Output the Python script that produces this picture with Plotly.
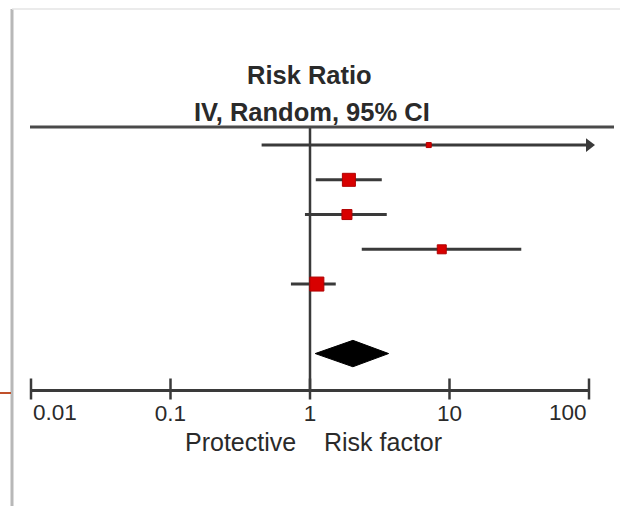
import math
import plotly.graph_objects as go

# ---- data ----
studies = ["Study 1", "Study 2", "Study 3", "Study 4", "Study 5"]
rr_est = [7.1, 1.90, 1.84, 8.8, 1.12]
rr_low = [0.45, 1.10, 0.92, 2.35, 0.73]
rr_high = [150.0, 3.27, 3.55, 32.7, 1.53]
weights = [5, 13, 10, 9, 14]          # relative box size
pooled_est = 2.03
pooled_low = 1.09
pooled_high = 3.66
tick_vals = [0.01, 0.1, 1, 10, 100]
tick_text = ["0.01", "0.1", "1", "10", "100"]

X_MIN, X_MAX = tick_vals[0], tick_vals[-1]
n = len(studies)
pooled_row = n + 1
Y_TOP, Y_BOT = -0.52, pooled_row + 1.02

LINE_C = "#3a3a3a"
BOX_C = "#d80000"
TXT_C = "#2a2a2a"
FONT = "Liberation Sans, Arial, sans-serif"
TICK_SIZE = 22.5

fig = go.Figure()

# reference (null) line at RR = 1
fig.add_trace(go.Scatter(x=[1, 1], y=[Y_TOP, Y_BOT], mode="lines",
                         line=dict(color=LINE_C, width=2.5),
                         hoverinfo="skip", showlegend=False))

# confidence intervals
for i in range(n):
    hi = min(rr_high[i], X_MAX)
    fig.add_trace(go.Scatter(x=[rr_low[i], hi], y=[i, i], mode="lines",
                             line=dict(color=LINE_C, width=3),
                             hoverinfo="skip", showlegend=False))
    if rr_high[i] > X_MAX:
        fig.add_trace(go.Scatter(x=[X_MAX], y=[i], mode="markers",
                                 marker=dict(symbol="triangle-right", size=12,
                                             color=LINE_C),
                                 cliponaxis=False, hoverinfo="skip",
                                 showlegend=False))

# point estimates (boxes)
fig.add_trace(go.Scatter(x=rr_est, y=list(range(n)), mode="markers",
                         marker=dict(symbol="square", size=weights, color=BOX_C,
                                     opacity=1,
                                     line=dict(color="#b00000", width=1)),
                         text=studies, showlegend=False))

# pooled diamond
h = 0.38
fig.add_trace(go.Scatter(
    x=[pooled_low, pooled_est, pooled_high, pooled_est, pooled_low],
    y=[pooled_row, pooled_row - h, pooled_row, pooled_row + h, pooled_row],
    mode="lines", fill="toself", fillcolor="#000000",
    line=dict(color="#000000", width=1), hoverinfo="skip", showlegend=False))

# tick marks crossing the axis line
fig.add_trace(go.Scatter(x=tick_vals, y=[Y_BOT] * len(tick_vals), mode="markers",
                         marker=dict(symbol="line-ns", size=15,
                                     line=dict(color=LINE_C, width=2.5)),
                         cliponaxis=False, hoverinfo="skip", showlegend=False))

# inner tick labels come from the axis; the two end labels are aligned inward
inner_text = [""] + tick_text[1:-1] + [""]
fig.update_xaxes(type="log", range=[math.log10(X_MIN), math.log10(X_MAX)],
                 tickvals=tick_vals, ticktext=inner_text,
                 showgrid=False, zeroline=False, showline=True,
                 linecolor=LINE_C, linewidth=3, ticks="",
                 tickfont=dict(family=FONT, size=TICK_SIZE, color=TXT_C),
                 ticklabelstandoff=2)
fig.update_yaxes(range=[Y_BOT, Y_TOP], visible=False, showgrid=False,
                 zeroline=False)

L, R, T, B = 31, 31, 127, 117
W, H = 620, 506
pw, ph = W - L - R, H - T - B

def px(xp):
    return (xp - L) / pw

def py(yp):
    return (H - B - yp) / ph

shapes = [
    # top rule of the forest plot
    dict(type="line", xref="paper", yref="paper", x0=px(30), x1=px(614),
         y0=1, y1=1, line=dict(color="#4a4a4a", width=3)),
    # slide frame
    dict(type="line", xref="paper", yref="paper", x0=px(12), x1=px(12),
         y0=py(9), y1=py(506), line=dict(color="#b8b8b8", width=3)),
    dict(type="line", xref="paper", yref="paper", x0=px(12), x1=px(620),
         y0=py(9), y1=py(9), line=dict(color="#e4e4e4", width=1.5)),
    dict(type="line", xref="paper", yref="paper", x0=px(0), x1=px(11),
         y0=py(393), y1=py(393), line=dict(color="#c0502a", width=2)),
]

annotations = [
    dict(text="<b>Risk Ratio</b>", xref="paper", yref="paper", x=px(309), y=py(75),
         showarrow=False, font=dict(family=FONT, size=25.5, color=TXT_C),
         xanchor="center", yanchor="middle"),
    dict(text="<b>IV, Random, 95% CI</b>", xref="paper", yref="paper", x=px(312),
         y=py(112), showarrow=False, font=dict(family=FONT, size=25.5, color=TXT_C),
         xanchor="center", yanchor="middle"),
    dict(text="Protective", xref="paper", yref="paper", x=px(298), y=py(442),
         showarrow=False, font=dict(family=FONT, size=25, color=TXT_C),
         xanchor="right", yanchor="middle"),
    dict(text="Risk factor", xref="paper", yref="paper", x=px(322), y=py(442),
         showarrow=False, font=dict(family=FONT, size=25, color=TXT_C),
         xanchor="left", yanchor="middle"),
    dict(text=tick_text[0], xref="x", yref="paper", x=math.log10(tick_vals[0]),
         y=py(412), showarrow=False,
         font=dict(family=FONT, size=TICK_SIZE, color=TXT_C),
         xanchor="left", yanchor="middle"),
    dict(text=tick_text[-1], xref="x", yref="paper", x=math.log10(tick_vals[-1]),
         y=py(412), showarrow=False,
         font=dict(family=FONT, size=TICK_SIZE, color=TXT_C),
         xanchor="right", yanchor="middle"),
]

fig.update_layout(width=W, height=H, margin=dict(l=L, r=R, t=T, b=B),
                  plot_bgcolor="white", paper_bgcolor="white",
                  shapes=shapes, annotations=annotations, showlegend=False)

fig.write_html("out.html", config={"displayModeBar": False},
               post_script="document.body.style.margin='0';"
                           "document.body.style.padding='0';")
